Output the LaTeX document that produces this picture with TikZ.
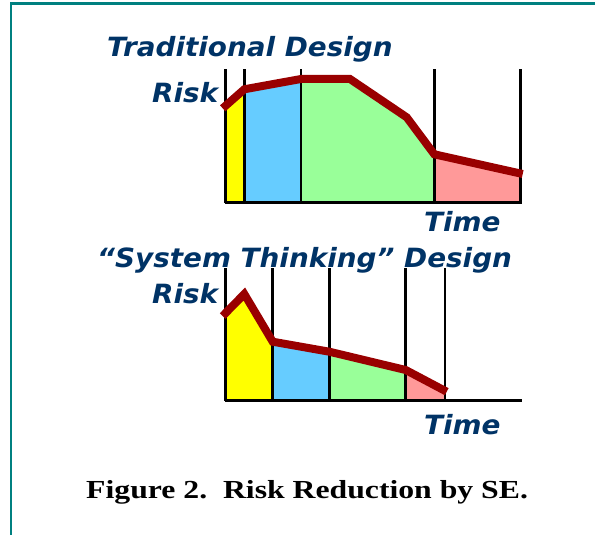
\documentclass[tikz,border=0pt]{standalone}
\usepackage{fontspec}
\newfontfamily\hfont{DejaVu Sans}[FakeStretch=1.05]
\newfontfamily\capfont{Liberation Serif}[FakeStretch=1.22]
\definecolor{navy}{RGB}{0,51,102}
\definecolor{teal2}{RGB}{0,128,128}
\definecolor{riskred}{RGB}{153,0,0}
\definecolor{cyel}{RGB}{255,255,0}
\definecolor{cblue}{RGB}{102,204,255}
\definecolor{cgreen}{RGB}{153,255,153}
\definecolor{cpink}{RGB}{255,153,153}
\tikzset{
  lbl/.style={font=\hfont\bfseries\itshape\fontsize{26.5}{30}\selectfont, text=navy, inner sep=0pt, anchor=base west},
  caplbl/.style={font=\capfont\bfseries\fontsize{26}{30}\selectfont, inner sep=0pt, anchor=base west},
  vline/.style={line width=2.5pt, black},
  axisline/.style={line width=3pt, black},
  riskline/.style={line width=8pt, riskred},
  frame/.style={line width=2.5pt, teal2}
}
\begin{document}
\begin{tikzpicture}[x=1pt,y=-1pt]
\useasboundingbox (0,0) rectangle (595,535);
% frame
\draw[frame] (11,535) -- (11,3.5) -- (595,3.5);

% ---------- top chart ----------
\foreach \xa/\xb/\col in {225.7/244.3/cyel, 244.3/301/cblue, 301/434.3/cgreen, 434.3/520.7/cpink}{
  \begin{scope}
    \clip (\xa,60) rectangle (\xb,202.7);
    \fill[\col] (222.7,108.3) -- (244.3,89.3) -- (301,79) -- (350,79) -- (406.7,117.3) -- (434.3,154.3) -- (522.7,174) -- (522.7,202.7) -- (222.7,202.7) -- cycle;
  \end{scope}
}
\foreach \xx in {225.7,244.3,301,434.3,520.7}{
  \draw[vline] (\xx,69.3) -- (\xx,202.7);
}
\draw[axisline] (224.5,202.7) -- (522,202.7);
\draw[riskline] (222.7,108.3) -- (244.3,89.3) -- (301,79) -- (350,79) -- (406.7,117.3) -- (434.3,154.3) -- (522.7,174);

% ---------- bottom chart ----------
\foreach \xa/\xb/\col in {225.7/272.7/cyel, 272.7/329.3/cblue, 329.3/405.7/cgreen, 405.7/445/cpink}{
  \begin{scope}
    \clip (\xa,260) rectangle (\xb,400.7);
    \fill[\col] (222.7,316) -- (244.3,294) -- (272.7,341.7) -- (329.3,351.7) -- (405.7,370) -- (446.7,391.7) -- (446.7,400.7) -- (222.7,400.7) -- cycle;
  \end{scope}
}
\foreach \xx in {225.7,272.7,329.3,405.7,445}{
  \draw[vline] (\xx,268.3) -- (\xx,400.7);
}
\draw[axisline] (224.5,400.7) -- (522,400.7);
\draw[riskline] (222.7,316) -- (244.3,294) -- (272.7,341.7) -- (329.3,351.7) -- (405.7,370) -- (446.7,391.7);

% ---------- labels ----------
\node[lbl] (t1) at (107,56.7) {Traditional Design};
\node[lbl] (r1) at (152,102.7) {Risk};
\node[lbl] (tm1) at (424,231.7) {Time};
\node[lbl] (t2) at (97,267.3) {“System Thinking” Design};
\node[lbl] (r2) at (152,303.3) {Risk};
\node[lbl] (tm2) at (424,434.3) {Time};
\node[caplbl] (cap) at (86,498.3) {Figure 2.\ \ Risk Reduction by SE.};
\end{tikzpicture}
\end{document}
